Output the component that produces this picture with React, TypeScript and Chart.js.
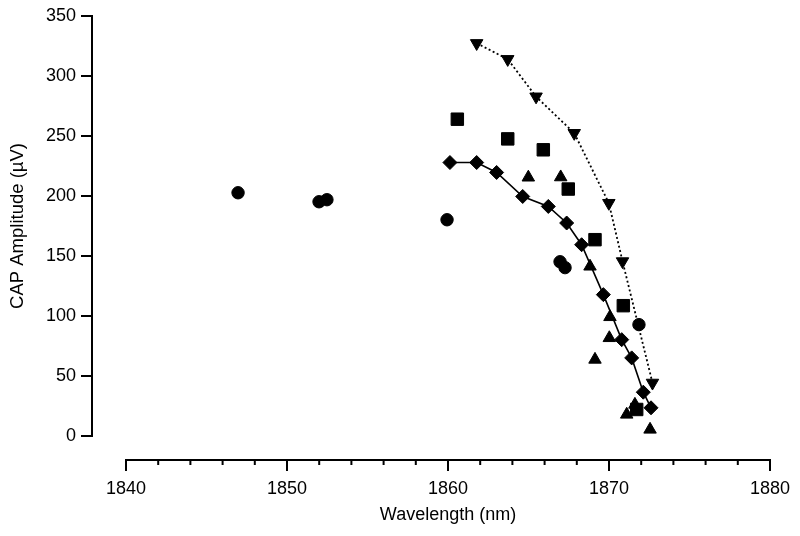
import React, { useEffect, useRef } from 'react';
import { Chart, registerables } from 'chart.js';

Chart.register(...registerables);

// Axis ranges and ticks
const X_MIN = 1840;
const X_MAX = 1880;
const X_MAJOR_STEP = 10;
const X_MINOR_STEP = 2;
const Y_MIN = 0;
const Y_MAX = 350;
const Y_STEP = 50;

const X_TITLE = 'Wavelength (nm)';
const Y_TITLE = 'CAP Amplitude (µV)';

// Series: circles (no line)
const circleX = [1846.96, 1851.99, 1852.48, 1859.94, 1866.96, 1867.27, 1871.86];
const circleY = [202.7, 195.2, 196.9, 180.2, 145.2, 140.3, 92.8];

// Series: squares (no line)
const squareX = [1860.58, 1863.71, 1865.92, 1867.47, 1869.13, 1870.89, 1871.72];
const squareY = [264.0, 247.6, 238.5, 205.8, 163.6, 108.6, 22.1];

// Series: up triangles (no line)
const triUpX = [1864.99, 1867.0, 1868.82, 1870.06, 1870.02, 1869.13, 1871.61, 1871.1, 1872.55];
const triUpY = [215.5, 215.7, 141.3, 99.2, 81.7, 63.7, 26.2, 17.9, 5.4];

// Series: down triangles (dotted line)
const triDownX = [1861.78, 1863.71, 1865.47, 1867.84, 1869.99, 1870.84, 1872.7];
const triDownY = [327.3, 314.0, 282.8, 252.4, 194.1, 145.5, 44.3];

// Series: diamonds (solid line)
const diamondX = [1860.12, 1861.78, 1863.02, 1864.64, 1866.23, 1867.37, 1868.3, 1869.65, 1870.79, 1871.41, 1872.13, 1872.61];
const diamondY = [227.9, 227.9, 219.6, 199.6, 191.3, 177.5, 159.4, 117.8, 80.3, 65.1, 36.5, 23.5];

const zip = (xs: number[], ys: number[]) => xs.map((x, i) => ({ x, y: ys[i] }));

const FONT = "'Liberation Sans', Arial, Helvetica, sans-serif";

const offsetAxesPlugin = {
  id: 'offsetAxes',
  afterDraw(chart: any) {
    const { ctx, chartArea } = chart;
    const xs = chart.scales.x;
    const ys = chart.scales.y;
    const ax = chartArea.left - 34;
    const ay = chartArea.bottom + 24;
    ctx.save();
    ctx.strokeStyle = '#000';
    ctx.lineWidth = 2;
    ctx.lineCap = 'butt';
    // y axis
    const y0 = ys.getPixelForValue(Y_MIN);
    const y1 = ys.getPixelForValue(Y_MAX);
    ctx.beginPath();
    ctx.moveTo(ax, y0 + 1);
    ctx.lineTo(ax, y1 - 1);
    for (let v = Y_MIN; v <= Y_MAX; v += Y_STEP) {
      const py = ys.getPixelForValue(v);
      ctx.moveTo(ax - 11, py);
      ctx.lineTo(ax + 1, py);
    }
    ctx.stroke();
    // x axis
    const x0 = xs.getPixelForValue(X_MIN);
    const x1 = xs.getPixelForValue(X_MAX);
    ctx.beginPath();
    ctx.moveTo(x0 - 1, ay);
    ctx.lineTo(x1 + 1, ay);
    for (let v = X_MIN; v <= X_MAX + 1e-6; v += X_MINOR_STEP) {
      const px = xs.getPixelForValue(v);
      const major = Math.abs((v - X_MIN) % X_MAJOR_STEP) < 1e-6;
      ctx.moveTo(px, ay - 1);
      ctx.lineTo(px, ay + (major ? 11 : 5));
    }
    ctx.stroke();
    ctx.restore();
  },
};

export default function App() {
  const ref = useRef<HTMLCanvasElement | null>(null);

  useEffect(() => {
    if (!ref.current) return;
    const black = '#000000';
    const chart = new Chart(ref.current, {
      type: 'scatter',
      data: {
        datasets: [
          {
            label: 'diamond',
            data: zip(diamondX, diamondY),
            showLine: true,
            borderColor: black,
            borderWidth: 1.6,
            backgroundColor: black,
            pointStyle: 'rectRot',
            pointRadius: 7,
            pointBorderWidth: 1,
            pointBorderColor: black,
            pointBackgroundColor: black,
            clip: false,
          },
          {
            label: 'down',
            data: zip(triDownX, triDownY),
            showLine: true,
            borderColor: black,
            borderWidth: 1.8,
            borderDash: [2, 2.5],
            backgroundColor: black,
            pointStyle: 'triangle',
            pointRotation: 180,
            pointRadius: 7.2,
            pointBorderWidth: 1,
            pointBorderColor: black,
            pointBackgroundColor: black,
            clip: false,
          },
          {
            label: 'square',
            data: zip(squareX, squareY),
            showLine: false,
            pointStyle: 'rect',
            pointRadius: 8.8,
            pointBorderWidth: 1,
            pointBorderColor: black,
            pointBackgroundColor: black,
            clip: false,
          },
          {
            label: 'circle',
            data: zip(circleX, circleY),
            showLine: false,
            pointStyle: 'circle',
            pointRadius: 6.2,
            pointBorderWidth: 1,
            pointBorderColor: black,
            pointBackgroundColor: black,
            clip: false,
          },
          {
            label: 'up',
            data: zip(triUpX, triUpY),
            showLine: false,
            pointStyle: 'triangle',
            pointRadius: 7.2,
            pointBorderWidth: 1,
            pointBorderColor: black,
            pointBackgroundColor: black,
            clip: false,
          },
        ],
      },
      options: {
        responsive: false,
        animation: false,
        events: [],
        layout: { padding: { top: 16, right: 30, left: 0, bottom: 0 } },
        plugins: {
          legend: { display: false },
          tooltip: { enabled: false },
        },
        scales: {
          x: {
            type: 'linear',
            min: X_MIN,
            max: X_MAX,
            afterFit: (s: any) => {
              s.height = 100;
            },
            grid: {
              display: true,
              drawOnChartArea: false,
              drawTicks: true,
              tickLength: 42,
              color: 'rgba(0,0,0,0)',
              tickColor: 'rgba(0,0,0,0)',
            },
            border: { display: false },
            ticks: {
              stepSize: X_MAJOR_STEP,
              autoSkip: false,
              maxRotation: 0,
              padding: 0,
              color: black,
              font: { family: FONT, size: 18 },
              callback: (v: any) => String(v),
            },
            title: {
              display: true,
              text: X_TITLE,
              color: black,
              font: { family: FONT, size: 18 },
              padding: { top: 0, bottom: 10 },
            },
          },
          y: {
            type: 'linear',
            min: Y_MIN,
            max: Y_MAX,
            afterFit: (s: any) => {
              s.width = 126;
            },
            grid: {
              display: true,
              drawOnChartArea: false,
              drawTicks: true,
              tickLength: 50,
              color: 'rgba(0,0,0,0)',
              tickColor: 'rgba(0,0,0,0)',
            },
            border: { display: false },
            ticks: {
              stepSize: Y_STEP,
              autoSkip: false,
              padding: 0,
              color: black,
              font: { family: FONT, size: 18 },
              callback: (v: any) => String(v),
            },
            title: {
              display: true,
              text: Y_TITLE,
              color: black,
              font: { family: FONT, size: 18.5 },
              padding: { top: 7, bottom: 0 },
            },
          },
        },
      },
      plugins: [offsetAxesPlugin],
    });
    return () => chart.destroy();
  }, []);

  return (
    <div style={{ position: 'fixed', left: 0, top: 0, width: 800, height: 536, background: '#fff' }}>
      <canvas ref={ref} width={800} height={536} style={{ display: 'block' }} />
    </div>
  );
}
